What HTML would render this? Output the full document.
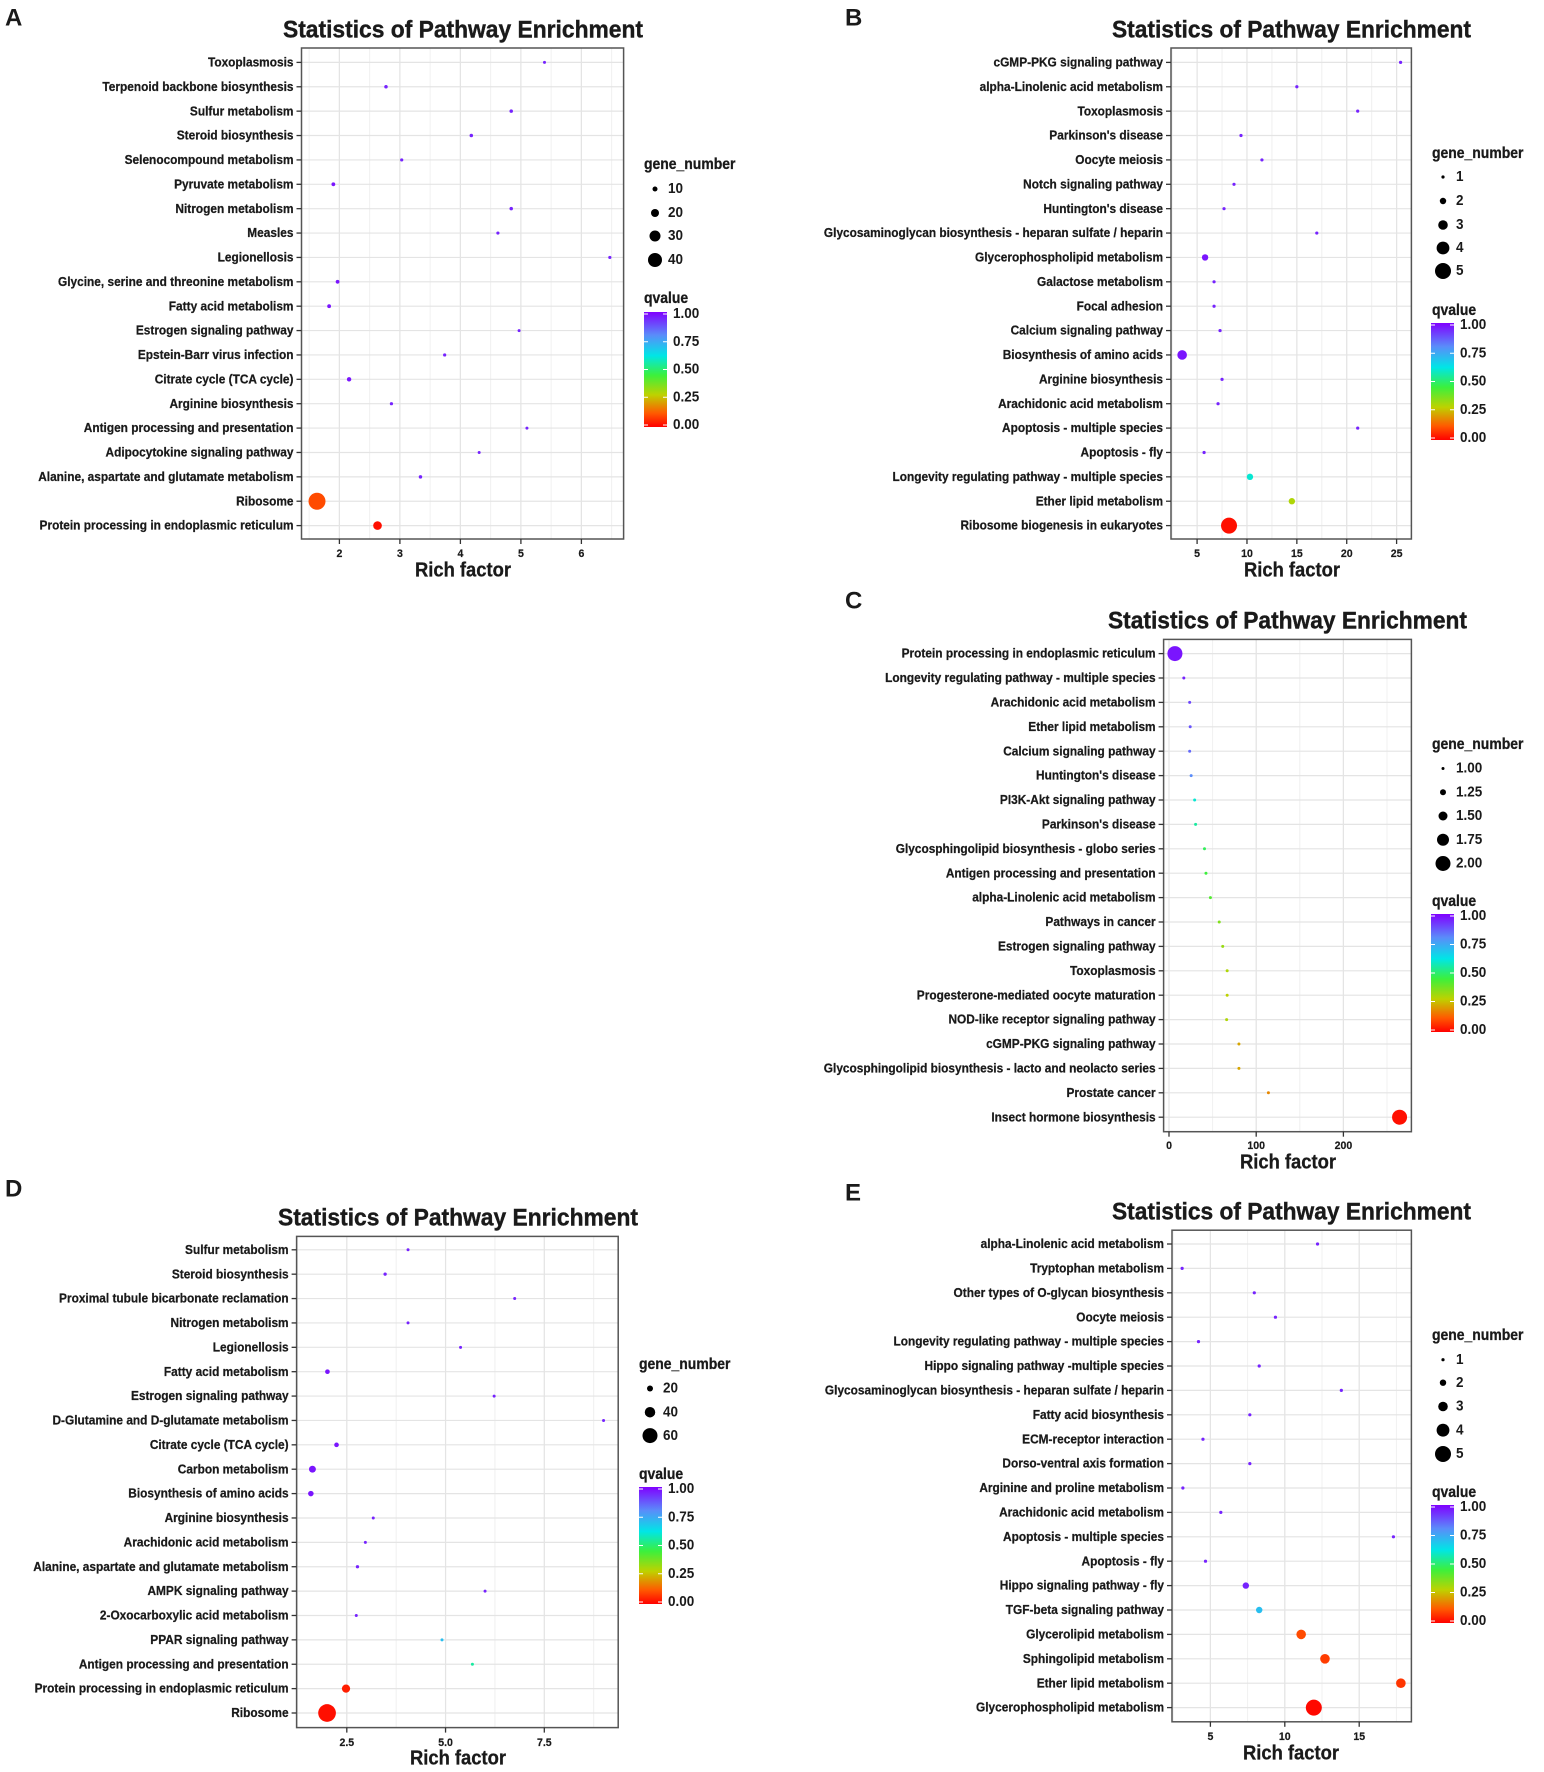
<!DOCTYPE html>
<html><head><meta charset="utf-8"><style>
html,body{margin:0;padding:0;background:#fff;}
svg{display:block;}
text{font-family:"Liberation Sans",Arial,sans-serif;font-weight:bold;fill:#1a1a1a;}
</style></head><body>
<svg id="fig" width="1544" height="1772" viewBox="0 0 1544 1772" xmlns="http://www.w3.org/2000/svg"></svg>
<script>
// ---------- Panel A data ----------
const catsA = ["Toxoplasmosis","Terpenoid backbone biosynthesis","Sulfur metabolism","Steroid biosynthesis","Selenocompound metabolism","Pyruvate metabolism","Nitrogen metabolism","Measles","Legionellosis","Glycine, serine and threonine metabolism","Fatty acid metabolism","Estrogen signaling pathway","Epstein-Barr virus infection","Citrate cycle (TCA cycle)","Arginine biosynthesis","Antigen processing and presentation","Adipocytokine signaling pathway","Alanine, aspartate and glutamate metabolism","Ribosome","Protein processing in endoplasmic reticulum"];
const richA = [5.39,2.77,4.84,4.18,3.03,1.90,4.84,4.62,6.47,1.97,1.83,4.97,3.74,2.16,2.86,5.10,4.31,3.34,1.63,2.63];
const geneA = [3,5,5,5,4,6,5,4,4,6,6,3,4,8,4,3,3,5,50,22];
const qA = [0.95,0.95,0.95,0.95,0.95,0.97,0.95,0.95,0.95,0.97,0.97,0.95,0.95,0.97,0.95,0.95,0.95,0.95,0.1,0.02];
const ticksA = [2,3,4,5,6];
const legendA = [10,20,30,40];
// ---------- Panel B data ----------
const catsB = ["cGMP-PKG signaling pathway","alpha-Linolenic acid metabolism","Toxoplasmosis","Parkinson's disease","Oocyte meiosis","Notch signaling pathway","Huntington's disease","Glycosaminoglycan biosynthesis - heparan sulfate / heparin","Glycerophospholipid metabolism","Galactose metabolism","Focal adhesion","Calcium signaling pathway","Biosynthesis of amino acids","Arginine biosynthesis","Arachidonic acid metabolism","Apoptosis - multiple species","Apoptosis - fly","Longevity regulating pathway - multiple species","Ether lipid metabolism","Ribosome biogenesis in eukaryotes"];
const richB = [25.4,15.0,21.1,9.4,11.5,8.7,7.7,17.0,5.8,6.7,6.7,7.3,3.5,7.5,7.1,21.1,5.7,10.3,14.5,8.2];
const geneB = [1,1,1,1,1,1,1,1,2,1,1,1,3,1,1,1,1,2,2,5];
const qB = [0.95,0.95,0.95,0.95,0.95,0.95,0.95,0.95,0.97,0.95,0.95,0.95,0.97,0.95,0.95,0.95,0.95,0.6,0.3,0.02];
const ticksB = [5,10,15,20,25];
const legendB = [1,2,3,4,5];
// ---------- Panel C data ----------
const catsC = ["Protein processing in endoplasmic reticulum","Longevity regulating pathway - multiple species","Arachidonic acid metabolism","Ether lipid metabolism","Calcium signaling pathway","Huntington's disease","PI3K-Akt signaling pathway","Parkinson's disease","Glycosphingolipid biosynthesis - globo series","Antigen processing and presentation","alpha-Linolenic acid metabolism","Pathways in cancer","Estrogen signaling pathway","Toxoplasmosis","Progesterone-mediated oocyte maturation","NOD-like receptor signaling pathway","cGMP-PKG signaling pathway","Glycosphingolipid biosynthesis - lacto and neolacto series","Prostate cancer","Insect hormone biosynthesis"];
const richC = [6.8,17,23.7,24.3,23.7,25.4,29.4,30.5,40.7,42.4,47.5,57.6,61.6,66.7,66.7,66.1,80.2,80.2,114,264.4];
const geneC = [2,1,1,1,1,1,1,1,1,1,1,1,1,1,1,1,1,1,1,2];
const qC = [0.97,0.95,0.9,0.88,0.85,0.8,0.6,0.55,0.48,0.45,0.42,0.36,0.33,0.3,0.28,0.3,0.22,0.22,0.18,0.02];
const ticksC = [0,100,200];
const legendC = [1.00,1.25,1.50,1.75,2.00];
// ---------- Panel D data ----------
const catsD = ["Sulfur metabolism","Steroid biosynthesis","Proximal tubule bicarbonate reclamation","Nitrogen metabolism","Legionellosis","Fatty acid metabolism","Estrogen signaling pathway","D-Glutamine and D-glutamate metabolism","Citrate cycle (TCA cycle)","Carbon metabolism","Biosynthesis of amino acids","Arginine biosynthesis","Arachidonic acid metabolism","Alanine, aspartate and glutamate metabolism","AMPK signaling pathway","2-Oxocarboxylic acid metabolism","PPAR signaling pathway","Antigen processing and presentation","Protein processing in endoplasmic reticulum","Ribosome"];
const richD = [4.05,3.47,6.75,4.05,5.38,2.01,6.23,9.0,2.24,1.63,1.59,3.17,2.97,2.77,6.0,2.74,4.91,5.68,2.48,2.0];
const geneD = [6,8,5,5,6,14,6,4,14,24,18,6,6,8,5,6,4,5,30,72];
const qD = [0.95,0.95,0.95,0.95,0.95,0.97,0.95,0.95,0.97,0.97,0.97,0.95,0.95,0.95,0.95,0.95,0.7,0.55,0.04,0.02];
const ticksD = [2.5,5.0,7.5];
const tickLabelsD = ["2.5","5.0","7.5"];
const legendD = [20,40,60];
// ---------- Panel E data ----------
const catsE = ["alpha-Linolenic acid metabolism","Tryptophan metabolism","Other types of O-glycan biosynthesis","Oocyte meiosis","Longevity regulating pathway - multiple species","Hippo signaling pathway -multiple species","Glycosaminoglycan biosynthesis - heparan sulfate / heparin","Fatty acid biosynthesis","ECM-receptor interaction","Dorso-ventral axis formation","Arginine and proline metabolism","Arachidonic acid metabolism","Apoptosis - multiple species","Apoptosis - fly","Hippo signaling pathway - fly","TGF-beta signaling pathway","Glycerolipid metabolism","Sphingolipid metabolism","Ether lipid metabolism","Glycerophospholipid metabolism"];
const richE = [12.2,3.1,7.95,9.37,4.2,8.28,13.8,7.65,4.5,7.65,3.15,5.7,17.3,4.67,7.38,8.28,11.1,12.7,17.8,11.95];
const geneE = [1,1,1,1,1,1,1,1,1,1,1,1,1,1,2,2,3,3,3,5];
const qE = [0.95,0.95,0.95,0.95,0.95,0.95,0.95,0.95,0.95,0.95,0.95,0.95,0.95,0.95,0.95,0.7,0.1,0.08,0.07,0.01];
const ticksE = [5,10,15];
const legendE = [1,2,3,4,5];
const qTicks = ["1.00","0.75","0.50","0.25","0.00"];

const NS = "http://www.w3.org/2000/svg";
const svg = document.getElementById("fig");
function mk(tag, attrs, parent){
  const e = document.createElementNS(NS, tag);
  for (const k in attrs) e.setAttribute(k, attrs[k]);
  (parent || svg).appendChild(e);
  return e;
}
function txt(parent, s, x, y, size, anchor, sx, heavy){
  const a = {transform:`translate(${x},${y}) scale(${sx||0.88},1)`, "font-size":size, "text-anchor":anchor||"start", "dominant-baseline":"central"};
  if (heavy) { a.stroke = "#1a1a1a"; a["stroke-width"] = heavy; }
  const t = mk("text", a, parent);
  t.textContent = s;
  return t;
}
const stops = [[0,[255,0,0]],[0.12,[255,90,0]],[0.28,[190,210,0]],[0.45,[60,240,60]],[0.62,[0,230,230]],[0.8,[90,140,250]],[1,[128,0,255]]];
function qColor(q){
  for (let i=1;i<stops.length;i++){
    if (q<=stops[i][0]){
      const a=stops[i-1], b=stops[i], t=(q-a[0])/(b[0]-a[0]);
      const c=a[1].map((v,j)=>Math.round(v+(b[1][j]-v)*t));
      return `rgb(${c[0]},${c[1]},${c[2]})`;
    }
  }
  return "rgb(128,0,255)";
}
const defs = mk("defs", {});
const lg = mk("linearGradient", {id:"qgrad", x1:0, y1:1, x2:0, y2:0}, defs);
stops.forEach(s=>mk("stop", {offset:s[0], "stop-color":`rgb(${s[1].join(",")})`}, lg));

function panel(cfg){
  const g = mk("g", {});
  
  
  const L=cfg.box[0], T=cfg.box[1], R=cfg.box[2], B=cfg.box[3];
  const xs = v => cfg.px0 + (v - cfg.v0) * cfg.ppu;
  const n = cfg.cats.length;
  const ys = i => cfg.row0 + i * (cfg.row1 - cfg.row0) / (n - 1);
  const lt = txt(g, cfg.letter, cfg.letterXY[0], cfg.letterXY[1], 24, "start", 1);
  
  
  const tt = mk("text", {x:(cfg.title[0]+cfg.title[1])/2, y:cfg.title[2], "font-size":24, "text-anchor":"middle", "dominant-baseline":"central", textLength:cfg.title[1]-cfg.title[0], lengthAdjust:"spacingAndGlyphs", stroke:"#1a1a1a", "stroke-width":0.4}, g);
  tt.textContent = "Statistics of Pathway Enrichment";
  
  
  const bg = mk("rect", {x:L, y:T, width:R-L, height:B-T, fill:"#fff"}, g);
  
  
  const step = cfg.ticks.length>1 ? cfg.ticks[1]-cfg.ticks[0] : 1;
  for (let v = cfg.ticks[0]-step*2.5; v <= cfg.ticks[cfg.ticks.length-1]+step*2.5; v += step/2){
    const x = xs(v);
    if (x > L && x < R) mk("line", {x1:x, x2:x, y1:T, y2:B, stroke:"#f0f0f0", "stroke-width":1}, g);
  }
  cfg.ticks.forEach(v=>{ const x=xs(v); mk("line",{x1:x,x2:x,y1:T,y2:B,stroke:"#e4e4e4","stroke-width":1.2},g); });
  cfg.cats.forEach((c,i)=>{ const y=ys(i); mk("line",{x1:L,x2:R,y1:y,y2:y,stroke:"#e4e4e4","stroke-width":1.2},g); });
  mk("rect", {x:L, y:T, width:R-L, height:B-T, fill:"none", stroke:"#555", "stroke-width":1.5}, g);
  cfg.cats.forEach((c,i)=>{
    const y = ys(i);
    mk("line",{x1:L-5,x2:L,y1:y,y2:y,stroke:"#333","stroke-width":1.3},g);
    const t = txt(g, c, L-8, y, 12.5, "end", 0.95, 0.25);
    
    
  });
  cfg.ticks.forEach((v,i)=>{
    const x = xs(v);
    mk("line",{x1:x,x2:x,y1:B,y2:B+5,stroke:"#333","stroke-width":1.3},g);
    const t = txt(g, cfg.tickLabels ? cfg.tickLabels[i] : String(v), x, cfg.tickY, 11.5, "middle", 0.92, 0.2);
    
    
  });
  const xt = txt(g, "Rich factor", cfg.xTitle[0], cfg.xTitle[1], 20, "middle", 0.92, 0.3);
  
  
  cfg.cats.forEach((c,i)=>{
    const d = Math.max(3, cfg.dA + cfg.dB * cfg.genes[i]);
    const p = mk("circle", {cx:xs(cfg.rich[i]), cy:ys(i), r:d/2, fill:qColor(cfg.q[i])}, g);
    
    
  });
  const lgx = cfg.leg;
  const gt = txt(g, "gene_number", lgx.tx, lgx.gy, 15.5, "start", 0.9, 0.3);
  
  
  cfg.legendVals.forEach((v,i)=>{
    const y = lgx.ey[i];
    const d = Math.max(3, cfg.dA + cfg.dB * v);
    const c = mk("circle", {cx:lgx.dx, cy:y, r:d/2, fill:"#000"}, g);
    
    
    txt(g, cfg.legendLabels ? cfg.legendLabels[i] : String(v), lgx.lx, y, 15, "start", 0.9);
  });
  const qt = txt(g, "qvalue", lgx.tx, lgx.qy, 15.5, "start", 0.9, 0.3);
  
  
  const cb = mk("rect", {x:lgx.cx, y:lgx.cy0, width:23, height:lgx.cy1-lgx.cy0, fill:"url(#qgrad)"}, g);
  
  
  qTicks.forEach((s,i)=>{
    const y = lgx.cy0 + 2 + i*(lgx.cy1-lgx.cy0-4)/4;
    mk("line",{x1:lgx.cx,x2:lgx.cx+4,y1:y,y2:y,stroke:"#fff","stroke-width":1},g);
    mk("line",{x1:lgx.cx+19,x2:lgx.cx+23,y1:y,y2:y,stroke:"#fff","stroke-width":1},g);
    txt(g, s, lgx.cx+29, y, 15, "start", 0.9);
  });
}

panel({name:"panel-a", letter:"A", letterXY:[5,18], title:[283,643,30], box:[301.5,48,623.6,539], row0:62.4, row1:525.6,
  px0:339.4, v0:2, ppu:60.5, ticks:ticksA, tickY:554, xTitle:[463,571],
  cats:catsA, rich:richA, genes:geneA, q:qA, dA:2, dB:0.3, legendVals:legendA,
  leg:{tx:644, gy:165, dx:655, lx:668, ey:[189,213,236,260], qy:299, cx:644, cy0:312, cy1:427}});
panel({name:"panel-b", letter:"B", letterXY:[845,18], title:[1112,1471,30], box:[1171,48,1411.4,539], row0:62.4, row1:525.6,
  px0:1197.1, v0:5, ppu:9.975, ticks:ticksB, tickY:554, xTitle:[1292,571],
  cats:catsB, rich:richB, genes:geneB, q:qB, dA:0, dB:3.2, legendVals:legendB,
  leg:{tx:1432, gy:154, dx:1443, lx:1456, ey:[177,201,225,248,271], qy:311, cx:1431, cy0:323, cy1:440}});
panel({name:"panel-c", letter:"C", letterXY:[845,601], title:[1108,1467,621], box:[1163.6,639.4,1411.4,1131.7], row0:653.6, row1:1117.2,
  px0:1169, v0:0, ppu:0.872, ticks:ticksC, tickY:1146, xTitle:[1288,1163],
  cats:catsC, rich:richC, genes:geneC, q:qC, dA:-9, dB:12, legendVals:legendC, legendLabels:["1.00","1.25","1.50","1.75","2.00"],
  leg:{tx:1432, gy:745, dx:1443, lx:1456, ey:[768.5,792.3,816,839.8,863.5], qy:902, cx:1431, cy0:914, cy1:1032}});
panel({name:"panel-d", letter:"D", letterXY:[5,1189], title:[278,638,1218], box:[296.6,1236.4,618.2,1727.6], row0:1249.8, row1:1713,
  px0:346.8, v0:2.5, ppu:39.5, ticks:ticksD, tickLabels:tickLabelsD, tickY:1743, xTitle:[458,1759],
  cats:catsD, rich:richD, genes:geneD, q:qD, dA:1.5, dB:0.225, legendVals:legendD,
  leg:{tx:639, gy:1365, dx:650, lx:663, ey:[1388.5,1412.2,1435.6], qy:1475, cx:639, cy0:1487, cy1:1604}});
panel({name:"panel-e", letter:"E", letterXY:[845,1193], title:[1112,1471,1212], box:[1172,1230.2,1411.4,1721.8], row0:1244, row1:1707.6,
  px0:1210.4, v0:5, ppu:14.88, ticks:ticksE, tickY:1737, xTitle:[1291,1754],
  cats:catsE, rich:richE, genes:geneE, q:qE, dA:0, dB:3.2, legendVals:legendE,
  leg:{tx:1432, gy:1336, dx:1443, lx:1456, ey:[1359.7,1382.7,1406.5,1430.2,1454], qy:1493, cx:1431, cy0:1505, cy1:1623}});
</script>
</body></html>
